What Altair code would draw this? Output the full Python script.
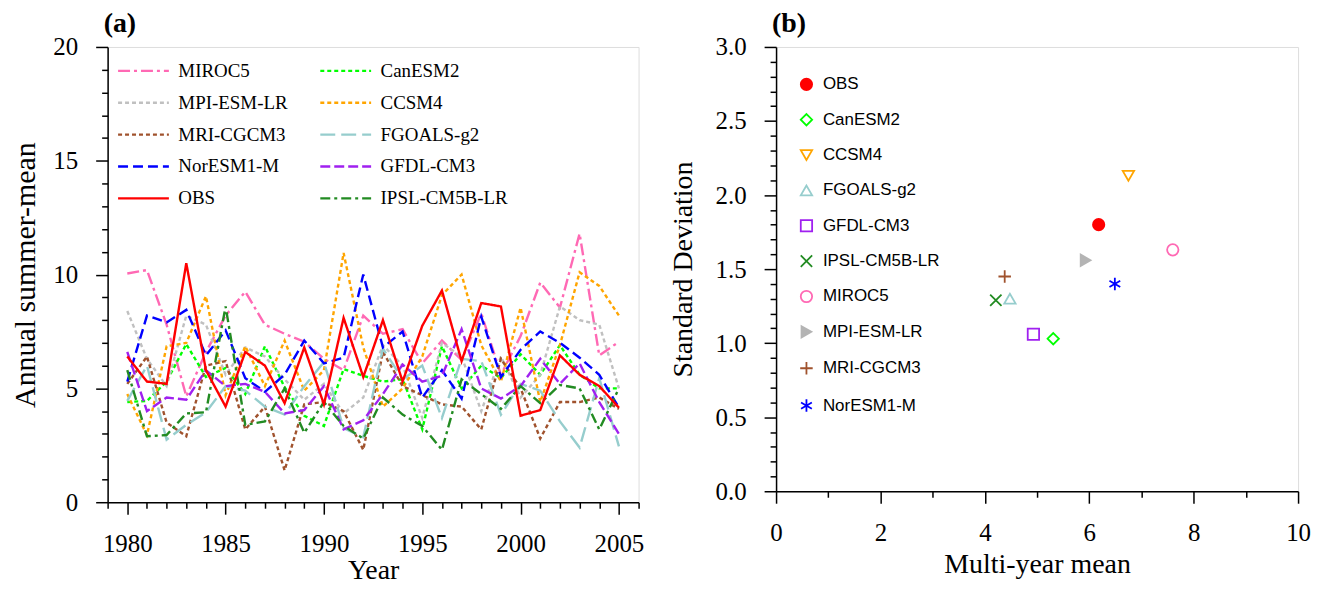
import altair as alt
import pandas as pd

years = list(range(1980, 2006))

obs = [6.4, 5.3, 5.2, 10.5, 5.8, 4.2, 6.6, 6.0, 4.35, 6.8, 4.3, 8.1, 5.5, 8.0, 5.3,
       7.75, 9.3, 6.2, 8.75, 8.6, 3.8, 4.05, 6.45, 5.6, 5.1, 4.15]
miroc5 = [10.05, 10.2, 7.8, 4.65, 6.6, 8.2, 9.25, 7.8, 7.4, 7.05, 6.3, 5.8, 8.2, 7.4, 7.6,
          6.1, 7.1, 6.25, 8.3, 5.6, 7.3, 9.65, 8.55, 11.8, 6.45, 7.05]
mpi = [8.4, 6.3, 5.1, 8.2, 7.8, 5.6, 6.8, 6.4, 5.4, 4.5, 5.2, 3.9, 4.6, 6.9, 6.0,
       3.7, 7.0, 6.4, 4.0, 6.4, 4.6, 5.6, 8.6, 8.0, 7.8, 5.0]
mri = [5.2, 6.4, 3.5, 2.9, 6.0, 6.2, 3.2, 4.2, 1.4, 4.3, 4.4, 4.0, 2.3, 6.6, 5.1,
       4.7, 4.3, 4.2, 3.2, 6.3, 5.0, 2.8, 4.4, 4.4, 4.6, 4.1]
noresm = [5.3, 8.2, 7.9, 8.45, 6.45, 7.55, 5.45, 4.85, 5.6, 7.1, 6.1, 6.35, 10.0, 6.8, 7.5,
          4.6, 5.8, 4.55, 8.15, 5.5, 6.7, 7.5, 7.0, 6.35, 5.6, 4.15]
canesm2 = [4.4, 4.45, 5.3, 6.95, 5.5, 5.9, 4.75, 6.85, 5.05, 3.8, 3.35, 5.85, 5.55, 5.3, 5.4,
           3.2, 6.85, 5.0, 6.0, 5.45, 6.5, 5.6, 6.9, 5.6, 5.0, 5.0]
ccsm4 = [4.75, 2.95, 6.85, 7.0, 9.05, 4.7, 6.85, 5.1, 7.1, 4.9, 5.8, 10.95, 6.8, 4.2, 5.0,
         6.4, 9.1, 10.0, 6.9, 5.3, 8.55, 4.4, 6.9, 10.1, 9.5, 8.2]
fgoals = [4.45, 6.0, 2.75, 3.4, 3.95, 5.1, 4.9, 4.2, 3.85, 5.1, 6.15, 3.25, 2.85, 6.75, 5.4,
          6.0, 3.7, 6.3, 6.2, 3.85, 5.2, 4.9, 3.55, 2.4, 5.45, 2.45]
gfdl = [6.6, 4.0, 4.6, 4.5, 5.8, 5.1, 5.2, 4.85, 3.9, 4.05, 5.1, 3.2, 3.6, 4.75, 6.05,
        5.3, 5.55, 7.6, 5.0, 4.55, 5.1, 6.3, 5.2, 6.1, 4.4, 3.0]
ipsl = [5.8, 2.9, 2.95, 3.9, 3.95, 8.6, 3.4, 3.55, 5.0, 3.05, 4.4, 3.35, 2.8, 4.6, 3.85,
        3.35, 2.3, 5.4, 4.75, 4.1, 5.1, 4.35, 5.15, 5.0, 3.2, 5.0]

series = {
    "MIROC5": miroc5, "CanESM2": canesm2, "MPI-ESM-LR": mpi, "CCSM4": ccsm4,
    "MRI-CGCM3": mri, "FGOALS-g2": fgoals, "NorESM1-M": noresm, "GFDL-CM3": gfdl,
    "IPSL-CM5B-LR": ipsl, "OBS": obs,
}

# legend order: column-major (left column first)
line_models = ["MIROC5", "MPI-ESM-LR", "MRI-CGCM3", "NorESM1-M", "OBS",
               "CanESM2", "CCSM4", "FGOALS-g2", "GFDL-CM3", "IPSL-CM5B-LR"]
line_colors = ["#FF69B4", "#C0C0C0", "#A0522D", "#0000FF", "#FF0000",
               "#00FF00", "#FFA500", "#96CDCD", "#A020F0", "#228B22"]
line_dashes = [[12, 4, 3, 4], [4, 3], [4, 3], [10, 5], [1, 0],
               [4, 3], [4, 3], [15, 6], [10, 4], [10, 4, 3, 4]]
line_widths = [2.4, 2.4, 2.4, 2.4, 4, 2.4, 2.4, 2.4, 2.4, 2.4]

sc_models = ["OBS", "CanESM2", "CCSM4", "FGOALS-g2", "GFDL-CM3", "IPSL-CM5B-LR",
             "MIROC5", "MPI-ESM-LR", "MRI-CGCM3", "NorESM1-M"]
sc_mean = [6.18, 5.31, 6.75, 4.48, 4.93, 4.21, 7.60, 5.93, 4.38, 6.49]
sc_std = [1.80, 1.03, 2.13, 1.30, 1.06, 1.29, 1.63, 1.56, 1.45, 1.40]
sc_colors = ["#FF0000", "#00FF00", "#FFA500", "#96CDCD", "#A020F0", "#228B22",
             "#FF69B4", "#B4B4B4", "#A0522D", "#0000FF"]
sc_fills = ["#FF0000", "transparent", "transparent", "transparent", "transparent",
            "transparent", "transparent", "#B4B4B4", "transparent", "transparent"]
sc_shapes = ["circle", "diamond", "triangle-down", "triangle-up", "square",
             "M-1,-1L1,1M-1,1L1,-1", "circle", "triangle-right",
             "M-1.1,0L1.1,0M0,-1.1L0,1.1",
             "M0,-1.1L0,1.1M-0.95,-0.55L0.95,0.55M-0.95,0.55L0.95,-0.55"]

rows = []
for name, vals in series.items():
    for yr, v in zip(years, vals):
        rows.append({"model": name, "year": yr, "value": v})
line_df = pd.DataFrame(rows)

sc_df = pd.DataFrame({"model": sc_models, "mean": sc_mean, "std": sc_std})

SERIF = "Liberation Serif"
SANS = "Liberation Sans"

common_axis = dict(labelFont=SERIF, labelFontSize=25, titleFont=SERIF,
                   titleFontWeight="normal", labelColor="black", titleColor="black",
                   domainColor="black", tickColor="black", domainWidth=1.5, tickWidth=1.5,
                   grid=False, labelOverlap=False, labelFlush=False)

line_legend = alt.Legend(title=None, orient="none", legendX=26, legendY=14, columns=2,
                         symbolType="M-3,0L3,0", symbolSize=289, labelFont=SERIF,
                         labelFontSize=19, labelColor="black", labelOffset=25,
                         rowPadding=12, columnPadding=27, labelLimit=400)

left = alt.Chart(line_df).mark_line().encode(
    x=alt.X("year:Q", title="Year",
            scale=alt.Scale(domain=[1979, 2006], nice=False, zero=False),
            axis=alt.Axis(values=list(range(1979, 2007)), format="d",
                          labelExpr="datum.value % 5 === 0 ? datum.label : ''",
                          tickSize={"condition": {"test": "datum.value % 5 === 0", "value": 12}, "value": 6},
                          labelPadding=17, titlePadding=1, titleFontSize=28, **common_axis)),
    y=alt.Y("value:Q", title="Annual summer-mean",
            scale=alt.Scale(domain=[0, 20], nice=False),
            axis=alt.Axis(values=list(range(0, 21)),
                          labelExpr="datum.value % 5 === 0 ? datum.label : ''",
                          tickSize={"condition": {"test": "datum.value % 5 === 0", "value": 12}, "value": 6},
                          labelPadding=18, titlePadding=12, titleFontSize=30, **common_axis)),
    color=alt.Color("model:N", scale=alt.Scale(domain=line_models, range=line_colors),
                    legend=line_legend),
    strokeDash=alt.StrokeDash("model:N", scale=alt.Scale(domain=line_models, range=line_dashes),
                              legend=line_legend),
    strokeWidth=alt.StrokeWidth("model:N", scale=alt.Scale(domain=line_models, range=line_widths),
                                legend=line_legend),
).properties(
    width=533, height=457,
    title=alt.TitleParams("(a)", anchor="start", frame="group", font=SERIF, fontSize=28,
                          fontWeight="bold", color="black", offset=-3, dx=-4),
)

sc_legend = alt.Legend(title=None, orient="none", legendX=22, legendY=29, symbolSize=130,
                       symbolStrokeWidth=1.8, labelFont=SANS, labelFontSize=17,
                       labelColor="black", labelOffset=8, rowPadding=16.5, labelLimit=400)

right = alt.Chart(sc_df).mark_point(size=130, strokeWidth=1.8, opacity=1).encode(
    x=alt.X("mean:Q", title="Multi-year mean",
            scale=alt.Scale(domain=[0, 10], nice=False),
            axis=alt.Axis(values=[i * 0.5 for i in range(21)], format="d",
                          labelExpr="datum.value % 2 === 0 ? datum.label : ''",
                          tickSize={"condition": {"test": "datum.value % 2 === 0", "value": 12}, "value": 6},
                          labelPadding=17, titlePadding=6, titleFontSize=28, **common_axis)),
    y=alt.Y("std:Q", title="Standard Deviation",
            scale=alt.Scale(domain=[0, 3], nice=False),
            axis=alt.Axis(values=[round(i * 0.1, 1) for i in range(31)],
                          labelExpr="abs(datum.value * 2 - round(datum.value * 2)) < 0.001 ? format(datum.value, '.1f') : ''",
                          tickSize={"condition": {"test": "abs(datum.value * 2 - round(datum.value * 2)) < 0.001", "value": 12}, "value": 6},
                          labelPadding=18, titlePadding=18, titleFontSize=28, **common_axis)),
    shape=alt.Shape("model:N", scale=alt.Scale(domain=sc_models, range=sc_shapes), legend=sc_legend),
    stroke=alt.Stroke("model:N", scale=alt.Scale(domain=sc_models, range=sc_colors), legend=sc_legend),
    fill=alt.Fill("model:N", scale=alt.Scale(domain=sc_models, range=sc_fills), legend=sc_legend),
).properties(
    width=524, height=446,
    title=alt.TitleParams("(b)", anchor="start", frame="group", font=SERIF, fontSize=28,
                          fontWeight="bold", color="black", offset=-3, dx=-4),
)

chart = alt.hconcat(left, right, spacing=24).resolve_scale(
    color="independent", strokeDash="independent", strokeWidth="independent",
    shape="independent", stroke="independent", fill="independent"
).resolve_legend(
    color="independent", strokeDash="independent", strokeWidth="independent",
    shape="independent", stroke="independent", fill="independent"
).properties(
    padding={"left": 2, "top": 0, "right": 5, "bottom": 0}
).configure_view(stroke="black", strokeWidth=1.5).configure(background="white")

chart.save("out.html", embed_options={"renderer": "svg", "actions": False})
